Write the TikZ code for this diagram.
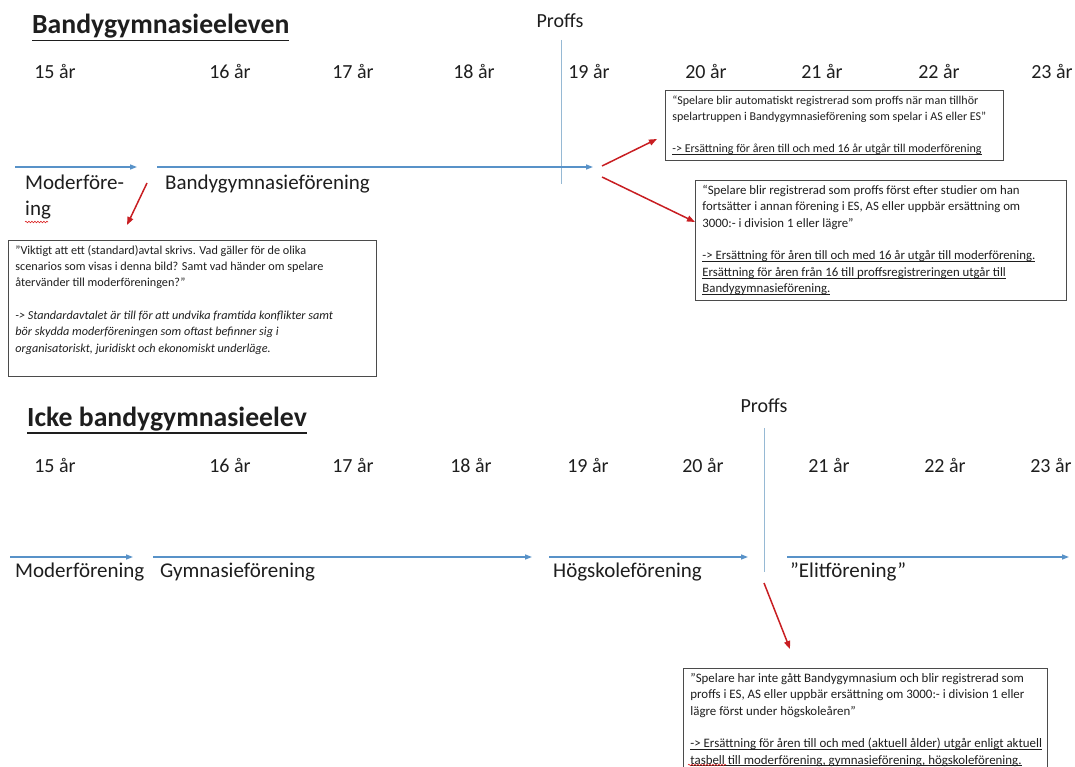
\documentclass[tikz,border=0pt]{standalone}
\usepackage{fontspec}
\setmainfont{Carlito}
\usepackage{xcolor}
\usepackage{tikz}
\usetikzlibrary{arrows.meta,positioning,decorations.pathmorphing}
\definecolor{timecolor}{RGB}{88,146,200}
\definecolor{proffscolor}{RGB}{150,185,212}
\definecolor{pointercolor}{RGB}{200,30,34}
\definecolor{framecolor}{RGB}{75,75,75}
\definecolor{inkcolor}{RGB}{30,30,30}
\definecolor{spellcolor}{RGB}{220,40,40}
\newcommand{\notefont}[1]{\fontsize{#1}{16.3}\selectfont}
\newcommand{\ulhead}[1]{\leavevmode\setbox0\hbox{#1}\rlap{\rule[-7.5pt]{\wd0}{1.8pt}}\box0}
\newcommand{\ulnote}[1]{\leavevmode\setbox0\hbox{#1}\rlap{\rule[-2pt]{\wd0}{0.6pt}}\box0}

\begin{document}
\begin{tikzpicture}[x=1pt,y=-1pt,
    title/.style={font=\fontsize{27.7}{32}\selectfont\bfseries, text=inkcolor, anchor=base west, inner sep=0pt},
    age/.style={font=\fontsize{20}{24}\selectfont, text=inkcolor, anchor=base, inner sep=0pt},
    club/.style={font=\fontsize{21}{26}\selectfont, text=inkcolor, anchor=base west, inner sep=0pt},
    note/.style={draw=framecolor, line width=0.8pt, fill=white, anchor=north west,
        inner xsep=7pt, inner ysep=5pt, text=inkcolor},
    timeline/.style={draw=timecolor, line width=1.3pt, -{Triangle[length=7pt,width=5pt]}},
    proffsline/.style={draw=proffscolor, line width=1pt},
    pointer/.style={draw=pointercolor, line width=1.5pt, -{Triangle[length=8pt,width=6pt]}},
    squiggle/.style={draw=spellcolor, line width=0.6pt, decorate,
        decoration={snake, amplitude=0.8pt, segment length=3pt}}
]
\useasboundingbox (0,0) rectangle (1075,767);

% Bandygymnasieeleven
\node[title] (head1) at (32,34) {\ulhead{Bandygymnasieeleven}};
\node[age] (proffs1) at (560,28) {Proffs};
\foreach \x/\a in {55/15, 230/16, 353/17, 474/18, 589/19, 706/20, 822/21, 939/22, 1052/23}
    \node[age] (ageA\a) at (\x,79) {\a{} år};

\coordinate (lineA1) at (561,40);
\coordinate (lineA2) at (561,184);
\draw[proffsline] (lineA1) -- (lineA2);

\coordinate (tA0) at (15,167);
\coordinate (tA1) at (137,167);
\coordinate (tA2) at (157,167);
\coordinate (tA3) at (593,167);
\draw[timeline] (tA0) -- (tA1);
\draw[timeline] (tA2) -- (tA3);

\node[club] (motherA) at (25,190) {Moderföre-};
\node[club] (motherB) at ([yshift=-26pt]motherA.base west) {ing};
\node[club] (bandyclub) at (165,190) {Bandygymnasieförening};
\draw[squiggle] (25,222) -- (48,222);

\node[note, font=\notefont{12.0}] (autoA) at (665,90) {\parbox[t][60pt][t]{324pt}{\raggedright
“Spelare blir automatiskt registrerad som proffs när man tillhör\\
spelartruppen i Bandygymnasieförening som spelar i AS eller ES”\\[16.3pt]
\ulnote{-> Ersättning för åren till och med 16 år utgår till moderförening}}};

\node[note, font=\notefont{12.8}] (autoB) at (695,180) {\parbox[t][110pt][t]{357pt}{\raggedright
“Spelare blir registrerad som proffs först efter studier om han\\
fortsätter i annan förening i ES, AS eller uppbär ersättning om\\
3000:- i division 1 eller lägre”\\[16.3pt]
\ulnote{-> Ersättning för åren till och med 16 år utgår till moderförening.}\\
\ulnote{Ersättning för åren från 16 till proffsregistreringen utgår till}\\
\ulnote{Bandygymnasieförening.}}};

\node[note, font=\notefont{12.2}] (contract) at (8,240) {\parbox[t][126pt][t]{354pt}{\raggedright
”Viktigt att ett (standard)avtal skrivs. Vad gäller för de olika\\
scenarios som visas i denna bild? Samt vad händer om spelare\\
återvänder till moderföreningen?”\\[16.3pt]
\textit{-> Standardavtalet är till för att undvika framtida konflikter samt}\\
\textit{bör skydda moderföreningen som oftast befinner sig i}\\
\textit{organisatoriskt, juridiskt och ekonomiskt underläge.}}};

\coordinate (pA0) at (147,183);
\coordinate (pA1) at (127,225);
\coordinate (pB0) at (602,166);
\coordinate (pB1) at (657,139);
\coordinate (pC0) at (602,177);
\coordinate (pC1) at (695,222);
\draw[pointer] (pA0) -- (pA1);
\draw[pointer] (pB0) -- (pB1);
\draw[pointer] (pC0) -- (pC1);

% Icke bandygymnasieelev
\node[title] (head2) at (27,426) {\ulhead{Icke bandygymnasieelev}};
\node[age] (proffs2) at (764,412) {Proffs};
\foreach \x/\a in {55/15, 230/16, 353/17, 471/18, 588/19, 703/20, 829/21, 945/22, 1051/23}
    \node[age] (ageB\a) at (\x,472) {\a{} år};

\coordinate (lineB1) at (764,428);
\coordinate (lineB2) at (764,572);
\draw[proffsline] (lineB1) -- (lineB2);

\coordinate (tB0) at (10,557);
\coordinate (tB1) at (133,557);
\coordinate (tB2) at (153,557);
\coordinate (tB3) at (532,557);
\coordinate (tB4) at (549,557);
\coordinate (tB5) at (748,557);
\coordinate (tB6) at (787,557);
\coordinate (tB7) at (1069,557);
\draw[timeline] (tB0) -- (tB1);
\draw[timeline] (tB2) -- (tB3);
\draw[timeline] (tB4) -- (tB5);
\draw[timeline] (tB6) -- (tB7);

\node[club] (motherC) at (15,577) {Moderförening};
\node[club] (schoolclub) at (160,577) {Gymnasieförening};
\node[club] (collegeclub) at (553,577) {Högskoleförening};
\node[club] (eliteclub) at (790,577) {”Elitförening”};

\node[note, font=\notefont{12.9}] (autoC) at (683,668) {\parbox[t][120pt][t]{350pt}{\raggedright
”Spelare har inte gått Bandygymnasium och blir registrerad som\\
proffs i ES, AS eller uppbär ersättning om 3000:- i division 1 eller\\
lägre först under högskoleåren”\\[16.3pt]
\ulnote{-> Ersättning för åren till och med (aktuell ålder) utgår enligt aktuell}\\
\ulnote{tasbell till moderförening, gymnasieförening, högskoleförening.}}};
\draw[squiggle] (688,765) -- (726,765);

\coordinate (pD0) at (764,583);
\coordinate (pD1) at (790,649);
\draw[pointer] (pD0) -- (pD1);
\end{tikzpicture}
\end{document}
